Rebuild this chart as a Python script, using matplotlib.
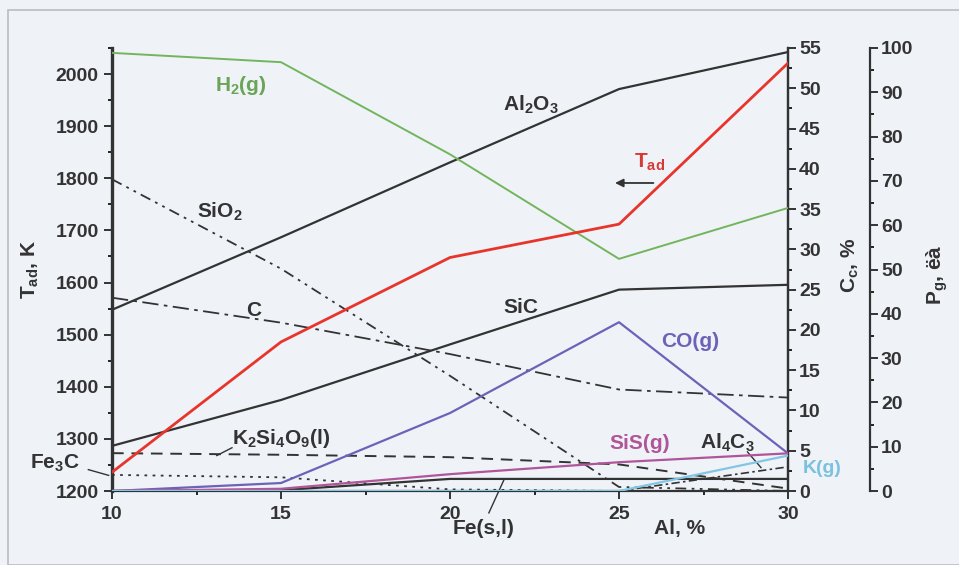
import matplotlib
matplotlib.use("Agg")
import matplotlib.pyplot as plt
from matplotlib.patches import Rectangle

al = [10, 15, 20, 25, 30]

# adiabatic temperature, K (left axis)
t_ad = [1236, 1486, 1648, 1712, 2021]

# condensed phases, C_c %
al2o3 = [22.5, 31.5, 40.8, 49.9, 54.5]
sio2 = [38.7, 27.6, 14.3, 0.5, 0.0]
c_free = [24.0, 20.9, 17.0, 12.6, 11.6]
sic = [5.6, 11.3, 18.2, 25.0, 25.6]
k2si4o9 = [4.7, 4.5, 4.2, 3.3, 0.3]
fe3c = [2.0, 1.7, 0.2, 0.0, 0.0]
fe = [0.0, 0.1, 1.5, 1.5, 1.5]
al4c3 = [0.0, 0.0, 0.0, 0.0, 3.0]

# gas phase, P_g (third axis)
h2 = [98.9, 96.8, 76.0, 52.4, 63.9]
co = [0.0, 1.8, 17.6, 38.1, 8.5]
sis = [0.0, 0.5, 3.8, 6.5, 8.5]
k_g = [0.0, 0.0, 0.0, 0.0, 8.0]

bg = "#eff3f8"
ink = "#333333"
plt.rcParams["font.family"] = ["Liberation Sans", "DejaVu Sans"]
plt.rcParams["font.weight"] = "bold"
plt.rcParams["mathtext.default"] = "regular"

fig = plt.figure(figsize=(9.59, 5.65), dpi=100, facecolor=bg)
fig.patches.append(Rectangle((8 / 959, 0), 1, 555 / 565, transform=fig.transFigure,
                             fill=False, edgecolor="#b8bcc4", lw=1.2))

ax = fig.add_axes([112 / 959, 74 / 565, 676 / 959, 443 / 565])
ax.set_facecolor("none")
ax_c = ax.twinx()
ax_p = ax.twinx()
ax_p.spines["right"].set_position(("axes", 1.121))

for a in (ax, ax_c, ax_p):
    a.spines["top"].set_visible(False)
    for s in a.spines.values():
        s.set_color(ink)
        s.set_linewidth(1.6)
    a.tick_params(colors=ink, labelsize=14, width=1.4, length=6, direction="out")
    a.tick_params(which="minor", width=1.2, length=3, direction="out")
ax.spines["left"].set_linewidth(2.4)
ax_c.spines["left"].set_visible(False)
ax_p.spines["left"].set_visible(False)
ax_c.spines["bottom"].set_visible(False)
ax_p.spines["bottom"].set_visible(False)

ax.set_xlim(10, 30)
ax.set_ylim(1200, 2050)
ax_c.set_ylim(0, 55)
ax_p.set_ylim(0, 100)
ax.set_xticks(al)
ax.set_xticks([12.5, 17.5, 22.5, 27.5], minor=True)
ax.set_yticks(range(1200, 2001, 100))
ax.set_yticks(range(1250, 2051, 100), minor=True)
ax_c.set_yticks(range(0, 56, 5))
ax_c.set_yticks([x + 2.5 for x in range(0, 55, 5)], minor=True)
ax_p.set_yticks(range(0, 101, 10))
ax_p.set_yticks(range(5, 100, 10), minor=True)
ax.tick_params(axis="x", pad=5)
ax_c.tick_params(pad=2)
ax_p.tick_params(pad=2)

black = "#333333"
ax_c.plot(al, al2o3, color=black, lw=1.6)
ax_c.plot(al, sic, color=black, lw=1.6)
ax_c.plot(al, fe, color=black, lw=1.6)
ax_c.plot(al, sio2, color=black, lw=1.3, ls=(0, (6, 3, 1.5, 3, 1.5, 3)))
ax_c.plot(al, c_free, color=black, lw=1.3, ls=(0, (9, 3, 2, 3)))
ax_c.plot(al, k2si4o9, color=black, lw=1.4, ls=(0, (6, 4)))
ax_c.plot(al, fe3c, color=black, lw=1.3, ls=(0, (1.5, 3)))
ax_c.plot(al, al4c3, color=black, lw=1.2, ls=(0, (5, 2, 1.5, 2)))
ax_p.plot(al, h2, color="#72b55c", lw=1.4)
ax_p.plot(al, co, color="#6c63b8", lw=1.6)
ax_p.plot(al, sis, color="#b0559a", lw=1.6)
ax_p.plot(al, k_g, color="#82c6e4", lw=1.6)
ax_p.plot(al, t_ad, color="#e8352c", lw=2.0, transform=ax.transData)

fs = 15
ax.text(13.8, 1979, "H$_2$(g)", color="#6aa456", fontsize=fs, ha="center", va="center")
ax.text(22.4, 1940, "Al$_2$O$_3$", color=ink, fontsize=fs, ha="center", va="center")
ax.text(25.9, 1831, "T$_{ad}$", color="#d63a33", fontsize=fs, ha="center", va="center")
ax.annotate("", xy=(24.8, 1791), xytext=(26.1, 1791),
            arrowprops=dict(arrowstyle="-|>", color=ink, lw=1.3, mutation_scale=12))
ax.text(13.2, 1735, "SiO$_2$", color=ink, fontsize=fs, ha="center", va="center")
ax.text(14.2, 1547, "C", color=ink, fontsize=fs, ha="center", va="center")
ax.text(22.1, 1553, "SiC", color=ink, fontsize=fs, ha="center", va="center")
ax.text(27.1, 1486, "CO(g)", color="#6c63b8", fontsize=fs, ha="center", va="center")
ax.text(15.0, 1300, "K$_2$Si$_4$O$_9$(l)", color=ink, fontsize=fs, ha="center", va="center")
ax.plot([13.55, 13.1], [1283, 1268], color=ink, lw=1.0)
ax.text(8.3, 1254, "Fe$_3$C", color=ink, fontsize=fs, ha="center", va="center", clip_on=False)
ax.plot([9.3, 9.9], [1241, 1230], color=ink, lw=1.0, clip_on=False)
ax.text(25.6, 1292, "SiS(g)", color="#b0559a", fontsize=fs, ha="center", va="center")
ax.text(28.2, 1292, "Al$_4$C$_3$", color=ink, fontsize=fs, ha="center", va="center")
ax.plot([28.8, 29.2], [1275, 1245], color=ink, lw=1.0)
ax.text(31.0, 1243, "K(g)", color="#7cc0e0", fontsize=14, ha="center", va="center", clip_on=False)
ax.text(21.0, 1128, "Fe(s,l)", color=ink, fontsize=fs, ha="center", va="center", clip_on=False)
ax.plot([21.6, 21.15], [1222, 1158], color=ink, lw=1.0, clip_on=False)
ax.text(26.8, 1128, "Al, %", color=ink, fontsize=fs, ha="center", va="center", clip_on=False)

fig.text(30 / 959, 1 - 270 / 565, "T$_{ad}$, K", rotation=90, fontsize=fs, color=ink,
         ha="center", va="center")
fig.text(850 / 959, 1 - 265 / 565, "C$_c$, %", rotation=90, fontsize=fs, color=ink,
         ha="center", va="center")
fig.text(937 / 959, 1 - 275 / 565, "P$_g$, ëà", rotation=90, fontsize=fs, color=ink,
         ha="center", va="center")

fig.savefig("out.png", dpi=100, facecolor=bg)
